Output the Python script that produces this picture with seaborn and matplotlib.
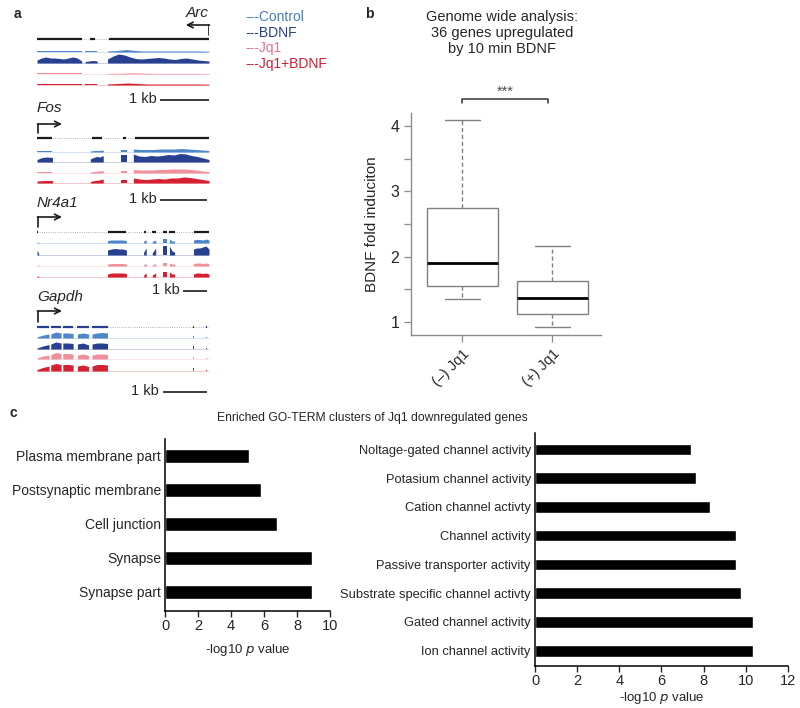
import numpy as np
import pandas as pd
import matplotlib
matplotlib.use("Agg")
import matplotlib.pyplot as plt
import seaborn as sns

W, H = 800, 708

# ---------------- panel a: browser tracks ----------------
# x positions in % of the shown window, coverage heights in arbitrary units
TRACKS = ["Control", "BDNF", "Jq1", "Jq1+BDNF"]
TRACK_COLORS = ["#4f86c9", "#27408f", "#f0909c", "#d42030"]

ARC_MODEL = [(0, 26), (31, 34), (42, 100)]
ARC_EXONS = [(0, 26), (28, 35), (41, 100)]
ARC_COV = [
    [[1, 1, 1, 1, 1], [0.8, 0.8], [1, 1.5, 2.5, 1.5, 1, 1, 1, 1, 1, 1, 1, 0.8]],
    [[3, 5, 6, 5, 5, 4.5, 4, 5, 6, 5, 2], [1.5, 2, 2.5, 2],
     [4, 7, 9, 8, 6, 4.5, 4, 4.5, 5, 5.5, 5, 4, 3.5, 4.5, 5, 4, 3, 2.5, 2]],
    [[0.6, 0.6, 0.6, 0.6], [0.5, 0.5], [0.6, 0.8, 1.2, 0.8, 0.6, 0.6, 0.6, 0.6, 0.5]],
    [[1, 1, 1, 1, 1], [0.7, 0.7], [1, 1.5, 2, 1.5, 1, 1, 1, 1, 1, 1, 0.8]],
]

FOS_MODEL = [(0, 9), (32, 38), (50, 52), (57, 100)]
FOS_EXONS = [(0, 9), (31, 38.5), (49, 52.5), (56, 100)]
FOS_COV = [
    [[1.2, 1.2, 1.2], [1, 1.5, 1.5, 2], [2, 2], [3, 2.5, 2.5, 2.5, 3, 3, 3, 3.5, 3, 2.5, 2, 1.5]],
    [[2.5, 4.5, 5, 4.5], [3, 4.5, 5.5, 5, 6.5], [7, 7],
     [8, 6, 5.5, 6.5, 6, 6.5, 7.5, 7, 8.5, 8, 6.5, 5.5, 4, 2.5]],
    [[1, 1, 1], [1, 1.5, 2, 2.5], [2.5, 2.5], [3.5, 3, 3, 3, 3.5, 3.5, 4, 4, 4, 3.5, 3, 2, 1.5]],
    [[2, 2.5, 2.5], [1.5, 2.5, 3, 4], [3.5, 3.5], [5, 4, 3.5, 4, 4.5, 4, 5, 5, 6, 5.5, 4.5, 3.5, 2.5]],
]

NR4A1_MODEL = [(0, 0.8), (41, 52), (62, 63.5), (67, 69), (73, 75.5), (77, 80), (91, 100)]
NR4A1_EXONS = [(0, 1), (41, 52), (62, 63.5), (67, 69), (73, 75.5), (77, 80), (91, 100)]
NR4A1_COV = [
    [[1, 0.5], [2.5, 3, 3, 3, 3, 2.5], [2, 3], [1.5, 3], [4, 4], [4, 2, 2], [3, 3.5, 3.5, 3, 4, 3]],
    [[5, 1], [5, 6, 6.5, 6, 6, 5], [3, 7], [2, 7], [9, 9], [9, 4, 3], [6, 7, 7, 8, 9, 6]],
    [[1, 0.5], [2, 2.5, 2.5, 2.5, 2.5, 2], [1.5, 2.5], [1, 2.5], [3.5, 3.5], [3, 2, 2], [2.5, 3, 3, 2.5, 3, 2]],
    [[1.5, 0.5], [3, 4, 4, 4, 4, 3.5], [2, 4], [2, 4], [5, 5], [5, 3, 3], [3, 4, 4, 3.5, 4, 3]],
]

GAPDH_MODEL = [(0, 7), (8, 14), (15, 21), (23.5, 30), (32, 41), (90.5, 91.5), (98, 99)]
GAPDH_EXONS = [(0, 7), (8, 14), (15, 21), (23.5, 30), (32, 41), (90.5, 91.5), (98, 99)]
GAPDH_COV = [
    [[1, 3, 4], [4, 6, 5], [5, 5, 4.5], [4, 5, 4], [4, 5, 5.5, 5], [2, 2], [1, 1]],
    [[1, 3, 4.5], [5, 7, 6], [6, 6, 5.5], [5, 6, 4], [5, 6, 6, 5.5], [3, 3], [1, 1]],
    [[1, 3, 4], [4.5, 6.5, 5.5], [5.5, 5.5, 5], [4, 5, 3.5], [4, 5, 5, 4.5], [2, 2], [1, 1]],
    [[1.5, 3.5, 5], [6, 7.5, 6.5], [6.5, 6.5, 6], [5, 6, 4.5], [5, 6.5, 6.5, 6], [3, 3], [1, 1]],
]

GENES = {
    "Arc": (ARC_MODEL, ARC_EXONS, ARC_COV),
    "Fos": (FOS_MODEL, FOS_EXONS, FOS_COV),
    "Nr4a1": (NR4A1_MODEL, NR4A1_EXONS, NR4A1_COV),
    "Gapdh": (GAPDH_MODEL, GAPDH_EXONS, GAPDH_COV),
}

# ---------------- panel b: boxplot ----------------
BOX_GROUPS = ["(\u2013) Jq1", "(+) Jq1"]
# five-number summaries: min, Q1, median, Q3, max
MINUS_JQ1 = [1.35, 1.55, 1.90, 2.75, 4.10]
PLUS_JQ1 = [0.92, 1.12, 1.37, 1.62, 2.16]

# ---------------- panel c: GO terms ----------------
CC_TERMS = ["Plasma membrane part", "Postsynaptic membrane", "Cell junction",
            "Synapse", "Synapse part"]
CC_VALUES = [5.1, 5.8, 6.8, 8.9, 8.9]
MF_TERMS = ["Noltage-gated channel activity", "Potasium channel activity",
            "Cation channel activty", "Channel activity", "Passive transporter activity",
            "Substrate specific channel activty", "Gated channel activity",
            "Ion channel activity"]
MF_VALUES = [7.42, 7.65, 8.31, 9.53, 9.53, 9.78, 10.33, 10.33]


sns.set_style("white")
plt.rcParams.update({
    "font.family": ["Liberation Sans", "DejaVu Sans"],
    "axes.linewidth": 1.1,
})


def box(x0, y0, x1, y1):
    return [x0 / W, 1 - y1 / H, (x1 - x0) / W, (y1 - y0) / H]


fig = plt.figure(figsize=(8, 7.08), dpi=100)

# ---- a ----
axa = fig.add_axes(box(37, 0, 209, 405))
axa.set_xlim(0, 100)
axa.set_ylim(405, 0)
axa.axis("off")

ROWS = {  # pixel rows: name, arrow, gene model, four tracks, scale bar
    "Arc": dict(name=13, arrow=25, model=39, tracks=(52, 63, 74, 85), bar=100, sb=(71.5, 100)),
    "Fos": dict(name=108, arrow=124, model=138, tracks=(152, 162, 173, 183), bar=200, sb=(71.5, 99)),
    "Nr4a1": dict(name=203, arrow=217, model=232, tracks=(243, 255, 266, 277), bar=291, sb=(85, 99)),
    "Gapdh": dict(name=297, arrow=311, model=327, tracks=(338, 349, 359, 371), bar=392, sb=(73, 99)),
}

for gene, (model, exons, cov) in GENES.items():
    r = ROWS[gene]
    mcol = "#2b3f8f" if gene == "Gapdh" else "0.1"
    axa.hlines(r["model"], 0, 100, color="0.6", lw=0.6, ls=":")
    for s, e in model:
        axa.hlines(r["model"], s, e, color=mcol, lw=1.6)
    for base, col, profile in zip(r["tracks"], TRACK_COLORS, cov):
        axa.hlines(base, 0, 100, color=col, lw=0.5, alpha=0.35)
        for (s, e), h in zip(exons, profile):
            xs = np.linspace(s, e, len(h))
            axa.fill_between(xs, base, base - np.array(h), color=col, lw=0)
    # gene name + TSS arrow
    if gene == "Arc":
        axa.text(100, r["name"], gene, ha="right", va="center", style="italic", fontsize=11)
        axa.plot([100, 100], [r["model"] - 4, r["arrow"]], color="0.1", lw=1.2)
        axa.annotate("", xy=(86.5, r["arrow"]), xytext=(100.3, r["arrow"]),
                     arrowprops=dict(arrowstyle="->", lw=1.2, color="0.1",
                                     shrinkA=0, shrinkB=0))
    else:
        axa.text(0, r["name"], gene, ha="left", va="center", style="italic", fontsize=11)
        axa.plot([0.6, 0.6], [r["model"] - 5, r["arrow"]], color="0.1", lw=1.2)
        axa.annotate("", xy=(14.5, r["arrow"]), xytext=(0.3, r["arrow"]),
                     arrowprops=dict(arrowstyle="->", lw=1.2, color="0.1",
                                     shrinkA=0, shrinkB=0))
    s0, s1 = r["sb"]
    axa.hlines(r["bar"], s0, s1, color="0.1", lw=1.2)
    axa.text(s0 - 2, r["bar"] - 1, "1 kb", ha="right", va="center", fontsize=10.5)

fig.text(14 / W, 1 - 14 / H, "a", fontsize=10, fontweight="bold", va="center")
for i, (name, col) in enumerate(zip(TRACKS, ["#4a7cc0", "#2b3f8f", "#e8708a", "#d11f30"])):
    fig.text(245 / W, 1 - (17 + 15.6 * i) / H, "---" + name, color=col,
             fontsize=10, va="center")

# ---- b ----
axb = fig.add_axes(box(411, 113, 601, 335))
df_b = pd.DataFrame({
    "group": [BOX_GROUPS[0]] * len(MINUS_JQ1) + [BOX_GROUPS[1]] * len(PLUS_JQ1),
    "fold": MINUS_JQ1 + PLUS_JQ1,
})
sns.boxplot(data=df_b, x="group", y="fold", whis=(0, 100), width=0.79,
            color="white", saturation=1, linecolor="0.5", linewidth=1.0,
            showfliers=False,
            medianprops=dict(color="black", linewidth=2),
            whiskerprops=dict(linestyle=(0, (3, 2))), ax=axb)
axb.set_xlim(-0.57, 1.54)
axb.set_ylim(0.8, 4.2)
axb.set_yticks([1, 1.5, 2, 2.5, 3, 3.5, 4])
axb.set_yticklabels(["1", "", "2", "", "3", "", "4"])
axb.set_xlabel("")
axb.set_ylabel("BDNF fold induciton", fontsize=11, labelpad=8)
axb.tick_params(axis="both", length=5, width=0.9, color="0.55", labelsize=11.5,
                labelcolor="0.15", bottom=True, left=True)
plt.setp(axb.get_xticklabels(), rotation=45, ha="right", rotation_mode="anchor",
         fontsize=10.5)
for side in ["top", "right"]:
    axb.spines[side].set_visible(False)
for side in ["left", "bottom"]:
    axb.spines[side].set_color("0.55")
    axb.spines[side].set_linewidth(1.0)
axb.plot([0, 0, 0.95, 0.95], [4.355, 4.415, 4.415, 4.355], color="0.2", lw=1.1, clip_on=False)
axb.text(0.475, 4.53, "***", ha="center", va="center", fontsize=10.5, color="0.3")
fig.text(365 / W, 1 - 14 / H, "b", fontsize=10, fontweight="bold", va="center")
fig.text(502 / W, 1 - 33 / H, "Genome wide analysis:\n36 genes upregulated\nby 10 min BDNF",
         ha="center", va="center", fontsize=10.5, linespacing=1.2, color="0.15")

# ---- c ----
fig.text(10 / W, 1 - 413 / H, "c", fontsize=10, fontweight="bold", va="center")
fig.text(372 / W, 1 - 418 / H, "Enriched GO-TERM clusters of Jq1 downregulated genes",
         ha="center", va="center", fontsize=8.7)

axl = fig.add_axes(box(165, 439, 330, 611))
sns.barplot(x=CC_VALUES, y=CC_TERMS, color="black", width=0.4, saturation=1,
            orient="h", ax=axl)
axl.set_xlim(0, 10)
axl.set_ylim(4.56, -0.5)
axl.set_xticks(range(0, 11, 2))
axl.set_xlabel("-log10 $p$ value", fontsize=9.5, labelpad=6)

axr = fig.add_axes(box(535, 433, 788, 666))
sns.barplot(x=MF_VALUES, y=MF_TERMS, color="black", width=0.4, saturation=1,
            orient="h", ax=axr)
axr.set_xlim(0, 12)
axr.set_ylim(7.53, -0.57)
axr.set_xticks(range(0, 13, 2))
axr.set_xlabel("-log10 $p$ value", fontsize=9.5, labelpad=1)

for ax in (axl, axr):
    ax.set_ylabel("")
    sns.despine(ax=ax)
    ax.tick_params(axis="x", length=4, width=1, bottom=True, labelsize=10.5, pad=2)
    ax.tick_params(axis="y", length=0, labelsize=10, pad=3)
    for side in ["left", "bottom"]:
        ax.spines[side].set_color("black")
axr.tick_params(axis="y", labelsize=9.3)

fig.savefig("out.png", dpi=100)
